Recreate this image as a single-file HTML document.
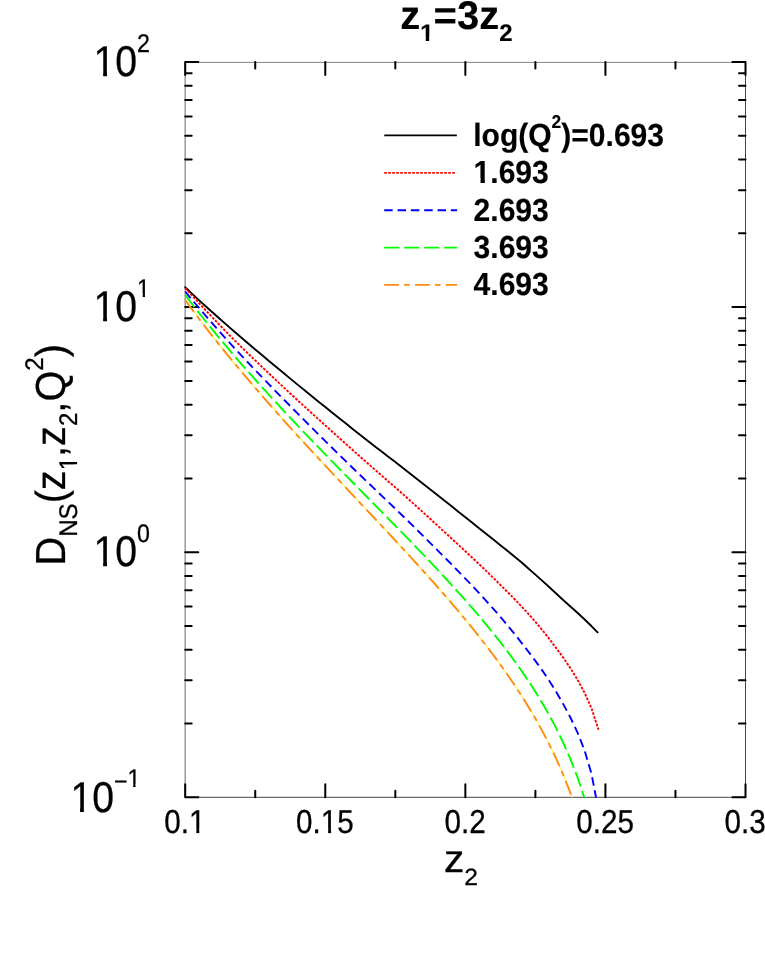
<!DOCTYPE html>
<html><head><meta charset="utf-8"><title>chart</title>
<style>
html,body{margin:0;padding:0;background:#fff;}
body{width:765px;height:980px;overflow:hidden;}
svg{display:block;will-change:transform;}
text{font-family:"Liberation Sans",sans-serif;fill:#000;stroke:#000;stroke-width:0.3px;font-kerning:none;text-rendering:geometricPrecision;}
.b text{font-weight:bold;stroke-width:0.15px;}
</style></head><body>
<svg width="765" height="980" viewBox="0 0 765 980">
<rect width="765" height="980" fill="#fff"/>
<defs><clipPath id="c1r"><path d="M-2,-75H58V-12.5H34.5V2H24.65V-12.5H-2Z"/></clipPath><clipPath id="c1b"><path d="M-2,-75H58V-15H37.4V2H23V-15H-2Z"/></clipPath><clipPath id="cp"><rect x="182.2" y="62.0" width="563.3" height="735.6"/></clipPath></defs>

<g fill="none">
<line x1="185.2" y1="62.0" x2="185.2" y2="797.3" stroke="#999" stroke-width="1.5"/>
<line x1="185.2" y1="62.4" x2="745.5" y2="62.4" stroke="#858585" stroke-width="1.0"/>
<line x1="745.5" y1="62.0" x2="745.5" y2="797.3" stroke="#3a3a3a" stroke-width="0.95"/>
<line x1="185.2" y1="797.3" x2="745.5" y2="797.3" stroke="#3a3a3a" stroke-width="0.95"/>
</g>
<g stroke="#000" stroke-width="2" stroke-linecap="round" fill="none">
<path d="M185.20,797.3 v-13.1 M185.20,62.0 v13.1 M255.24,797.3 v-6.5 M255.24,62.0 v6.5 M325.27,797.3 v-13.1 M325.27,62.0 v13.1 M395.31,797.3 v-6.5 M395.31,62.0 v6.5 M465.35,797.3 v-13.1 M465.35,62.0 v13.1 M535.39,797.3 v-6.5 M535.39,62.0 v6.5 M605.42,797.3 v-13.1 M605.42,62.0 v13.1 M675.46,797.3 v-6.5 M675.46,62.0 v6.5 M745.50,797.3 v-13.1 M745.50,62.0 v13.1 M185.2,797.30 h13.1 M745.5,797.30 h-13.1 M185.2,723.52 h6.5 M745.5,723.52 h-6.5 M185.2,680.36 h6.5 M745.5,680.36 h-6.5 M185.2,649.74 h6.5 M745.5,649.74 h-6.5 M185.2,625.98 h6.5 M745.5,625.98 h-6.5 M185.2,606.58 h6.5 M745.5,606.58 h-6.5 M185.2,590.17 h6.5 M745.5,590.17 h-6.5 M185.2,575.95 h6.5 M745.5,575.95 h-6.5 M185.2,563.42 h6.5 M745.5,563.42 h-6.5 M185.2,552.20 h13.1 M745.5,552.20 h-13.1 M185.2,478.42 h6.5 M745.5,478.42 h-6.5 M185.2,435.26 h6.5 M745.5,435.26 h-6.5 M185.2,404.64 h6.5 M745.5,404.64 h-6.5 M185.2,380.88 h6.5 M745.5,380.88 h-6.5 M185.2,361.48 h6.5 M745.5,361.48 h-6.5 M185.2,345.07 h6.5 M745.5,345.07 h-6.5 M185.2,330.85 h6.5 M745.5,330.85 h-6.5 M185.2,318.32 h6.5 M745.5,318.32 h-6.5 M185.2,307.10 h13.1 M745.5,307.10 h-13.1 M185.2,233.32 h6.5 M745.5,233.32 h-6.5 M185.2,190.16 h6.5 M745.5,190.16 h-6.5 M185.2,159.54 h6.5 M745.5,159.54 h-6.5 M185.2,135.78 h6.5 M745.5,135.78 h-6.5 M185.2,116.38 h6.5 M745.5,116.38 h-6.5 M185.2,99.97 h6.5 M745.5,99.97 h-6.5 M185.2,85.75 h6.5 M745.5,85.75 h-6.5 M185.2,73.22 h6.5 M745.5,73.22 h-6.5 M185.2,62.00 h13.1 M745.5,62.00 h-13.1"/>
</g>
<g clip-path="url(#cp)" fill="none" stroke-width="1.9" stroke-linejoin="round" stroke-linecap="butt">
<path d="M185.20,287.20 L192.20,293.86 L199.21,300.36 L206.21,306.75 L213.22,313.03 L220.22,319.25 L227.22,325.39 L234.23,331.48 L241.23,337.51 L248.23,343.50 L255.24,349.45 L262.24,355.35 L269.25,361.22 L276.25,367.06 L283.25,372.85 L290.26,378.62 L297.26,384.36 L304.26,390.07 L311.27,395.76 L318.27,401.42 L325.28,407.05 L332.28,412.67 L339.28,418.26 L346.29,423.84 L353.29,429.40 L360.29,434.94 L367.30,440.47 L374.30,445.99 L381.31,451.37 L388.31,456.73 L395.31,462.08 L402.32,467.56 L409.32,473.04 L416.32,478.51 L423.33,483.99 L430.33,489.46 L437.34,494.94 L444.34,500.48 L451.34,506.06 L458.35,511.65 L465.35,517.25 L472.35,522.84 L479.36,528.38 L486.36,533.95 L493.37,539.54 L500.37,545.17 L507.37,550.83 L514.38,556.53 L521.38,562.34 L528.38,568.45 L535.39,574.63 L542.39,580.89 L549.40,587.24 L556.40,593.71 L563.40,600.30 L570.41,606.43 L577.41,612.69 L584.41,619.21 L591.42,626.05 L597.58,632.43" stroke="#000" stroke-linecap="round"/>
<path d="M185.20,287.94 L192.20,295.73 L199.21,303.34 L206.21,310.82 L213.22,318.28 L220.22,325.64 L227.22,332.92 L234.23,339.97 L241.23,346.85 L248.23,353.67 L255.24,360.44 L262.24,367.14 L269.25,373.80 L276.25,380.41 L283.25,386.98 L290.26,393.50 L297.26,399.94 L304.26,406.35 L311.27,412.72 L318.27,419.06 L325.28,425.37 L332.28,431.68 L339.28,437.99 L346.29,444.29 L353.29,450.57 L360.29,456.83 L367.30,462.99 L374.30,469.15 L381.31,475.29 L388.31,481.41 L395.31,487.48 L402.32,493.62 L409.32,499.89 L416.32,506.17 L423.33,512.52 L430.33,518.95 L437.34,525.40 L444.34,531.88 L451.34,538.30 L458.35,544.75 L465.35,551.25 L472.35,557.80 L479.36,564.42 L486.36,571.12 L493.37,577.91 L500.37,584.81 L507.37,591.83 L514.38,598.99 L521.38,606.32 L528.38,613.86 L535.39,621.80 L542.39,630.17 L549.40,639.08 L556.40,648.35 L563.40,657.85 L570.41,668.15 L577.41,679.45 L584.41,692.44 L591.42,708.07 L598.42,729.36 L598.51,729.68" stroke="#ff0000" stroke-dasharray="2.6 1.4"/>
<path d="M185.20,291.49 L192.20,299.95 L199.21,308.20 L206.21,316.31 L213.22,324.37 L220.22,332.32 L227.22,340.17 L234.23,347.82 L241.23,355.31 L248.23,362.73 L255.24,370.09 L262.24,377.38 L269.25,384.62 L276.25,391.81 L283.25,398.95 L290.26,406.04 L297.26,413.13 L304.26,420.18 L311.27,427.20 L318.27,434.18 L325.28,441.14 L332.28,448.05 L339.28,454.88 L346.29,461.69 L353.29,468.49 L360.29,475.28 L367.30,481.97 L374.30,488.67 L381.31,495.36 L388.31,502.06 L395.31,508.77 L402.32,515.50 L409.32,522.26 L416.32,529.16 L423.33,536.09 L430.33,543.05 L437.34,550.05 L444.34,557.10 L451.34,564.19 L458.35,571.36 L465.35,578.60 L472.35,585.93 L479.36,593.37 L486.36,601.04 L493.37,608.86 L500.37,616.84 L507.37,625.19 L514.38,633.75 L521.38,642.58 L528.38,651.61 L535.39,660.90 L542.39,670.65 L549.40,680.98 L556.40,692.17 L563.40,704.35 L570.41,717.50 L577.41,732.30 L584.41,749.88 L591.42,773.54 L597.58,805.49" stroke="#0000ff" stroke-dasharray="8.5 4.83"/>
<path d="M185.20,294.91 L192.20,304.20 L199.21,313.22 L206.21,322.03 L213.22,330.66 L220.22,339.14 L227.22,347.47 L234.23,355.67 L241.23,363.76 L248.23,371.74 L255.24,379.62 L262.24,387.41 L269.25,395.11 L276.25,402.73 L283.25,410.28 L290.26,417.77 L297.26,425.19 L304.26,432.55 L311.27,439.87 L318.27,447.14 L325.28,454.37 L332.28,461.56 L339.28,468.73 L346.29,475.88 L353.29,483.00 L360.29,490.12 L367.30,497.22 L374.30,504.33 L381.31,511.45 L388.31,518.57 L395.31,525.72 L402.32,532.90 L409.32,540.11 L416.32,547.36 L423.33,554.66 L430.33,562.03 L437.34,569.47 L444.34,577.00 L451.34,584.62 L458.35,592.36 L465.35,600.22 L472.35,608.23 L479.36,616.41 L486.36,624.78 L493.37,633.36 L500.37,642.20 L507.37,651.32 L514.38,660.77 L521.38,670.61 L528.38,680.90 L535.39,691.73 L542.39,703.20 L549.40,715.44 L556.40,728.64 L563.40,743.03 L570.41,758.98 L577.41,777.01 L584.41,797.95 L591.42,823.25 L597.58,851.36" stroke="#00ff00" stroke-dasharray="15.3 4.7"/>
<path d="M185.20,300.04 L192.20,309.66 L199.21,319.01 L206.21,328.15 L213.22,337.10 L220.22,345.89 L227.22,354.53 L234.23,363.04 L241.23,371.44 L248.23,379.72 L255.24,387.90 L262.24,396.00 L269.25,404.00 L276.25,411.92 L283.25,419.78 L290.26,427.56 L297.26,435.29 L304.26,442.96 L311.27,450.58 L318.27,458.16 L325.28,465.71 L332.28,473.22 L339.28,480.71 L346.29,488.18 L353.29,495.63 L360.29,503.08 L367.30,510.54 L374.30,517.99 L381.31,525.47 L388.31,532.96 L395.31,540.49 L402.32,548.05 L409.32,555.65 L416.32,563.32 L423.33,571.05 L430.33,578.86 L437.34,586.75 L444.34,594.75 L451.34,602.87 L458.35,611.12 L465.35,619.52 L472.35,628.10 L479.36,636.87 L486.36,645.86 L493.37,655.11 L500.37,664.65 L507.37,674.52 L514.38,684.78 L521.38,695.49 L528.38,706.71 L535.39,718.56 L542.39,731.14 L549.40,744.62 L556.40,759.20 L563.40,775.16 L570.41,792.90 L577.41,813.03 L584.41,836.50 L591.42,864.99 L597.58,896.77" stroke="#fff060" stroke-width="1.1"/>
<path d="M185.20,300.04 L192.20,309.66 L199.21,319.01 L206.21,328.15 L213.22,337.10 L220.22,345.89 L227.22,354.53 L234.23,363.04 L241.23,371.44 L248.23,379.72 L255.24,387.90 L262.24,396.00 L269.25,404.00 L276.25,411.92 L283.25,419.78 L290.26,427.56 L297.26,435.29 L304.26,442.96 L311.27,450.58 L318.27,458.16 L325.28,465.71 L332.28,473.22 L339.28,480.71 L346.29,488.18 L353.29,495.63 L360.29,503.08 L367.30,510.54 L374.30,517.99 L381.31,525.47 L388.31,532.96 L395.31,540.49 L402.32,548.05 L409.32,555.65 L416.32,563.32 L423.33,571.05 L430.33,578.86 L437.34,586.75 L444.34,594.75 L451.34,602.87 L458.35,611.12 L465.35,619.52 L472.35,628.10 L479.36,636.87 L486.36,645.86 L493.37,655.11 L500.37,664.65 L507.37,674.52 L514.38,684.78 L521.38,695.49 L528.38,706.71 L535.39,718.56 L542.39,731.14 L549.40,744.62 L556.40,759.20 L563.40,775.16 L570.41,792.90 L577.41,813.03 L584.41,836.50 L591.42,864.99 L597.58,896.77" stroke="#ff8c10" stroke-dasharray="14.7 5.2 5.7 5.2"/>
</g>
<g fill="none" stroke-width="1.85">
<line x1="385.1" y1="135.4" x2="456.1" y2="135.4" stroke="#000" stroke-linecap="round"/>
<line x1="384.2" y1="172.9" x2="455.7" y2="172.9" stroke="#ff0000" stroke-dasharray="2.6 1.4"/>
<line x1="384.2" y1="210.2" x2="457.1" y2="210.2" stroke="#0000ff" stroke-dasharray="8.5 4.83"/>
<line x1="384.2" y1="247.6" x2="457.1" y2="247.6" stroke="#00ff00" stroke-dasharray="15.3 4.7"/>
<line x1="384.2" y1="284.8" x2="457.1" y2="284.8" stroke="#ff8c10" stroke-dasharray="14.7 5.2 5.7 5.2"/>
</g>
<g id="leg0" class="b" transform="translate(473.2,145.9) scale(0.939,1)">
<text x="0.00" y="0" font-size="32">log(Q</text>
<text x="83.53" y="-18.2" font-size="18.5">2</text>
<text x="93.82" y="0" font-size="32">)=0.693</text>
</g>
<g id="leg1" class="b" transform="translate(473.6,183.25) scale(0.939,1)">
<text transform="translate(0.00,0) scale(0.3200)" font-size="100" clip-path="url(#c1b)" style="stroke-width:0.469px">1</text>
<text x="17.80" y="0" font-size="32">.693</text>
</g>
<g id="leg2" class="b" transform="translate(473.6,220.6) scale(0.939,1)">
<text x="0.00" y="0" font-size="32">2.693</text>
</g>
<g id="leg3" class="b" transform="translate(473.6,257.95) scale(0.939,1)">
<text x="0.00" y="0" font-size="32">3.693</text>
</g>
<g id="leg4" class="b" transform="translate(473.6,295.3) scale(0.939,1)">
<text x="0.00" y="0" font-size="32">4.693</text>
</g>
<g id="title" class="b" transform="translate(400.2,28.8) scale(1.0,1)">
<text x="0.00" y="0" font-size="40">z</text>
<text transform="translate(20.00,12) scale(0.2400)" font-size="100" clip-path="url(#c1b)" style="stroke-width:0.625px">1</text>
<text x="33.35" y="0" font-size="40">=3z</text>
<text x="98.95" y="12" font-size="24">2</text>
</g>
<g id="yt0" transform="translate(93.5,76.2) scale(0.91,1)">
<text transform="translate(0.00,0) scale(0.4300)" font-size="100" clip-path="url(#c1r)" style="stroke-width:0.698px">1</text>
<text x="23.91" y="0" font-size="43">0</text>
<text x="47.83" y="-24.6" font-size="25.5">2</text>
</g>
<g id="yt1" transform="translate(93.5,321.3) scale(0.91,1)">
<text transform="translate(0.00,0) scale(0.4300)" font-size="100" clip-path="url(#c1r)" style="stroke-width:0.698px">1</text>
<text x="23.91" y="0" font-size="43">0</text>
<text transform="translate(47.83,-24.6) scale(0.2550)" font-size="100" clip-path="url(#c1r)" style="stroke-width:1.176px">1</text>
</g>
<g id="yt2" transform="translate(93.5,566.4) scale(0.91,1)">
<text transform="translate(0.00,0) scale(0.4300)" font-size="100" clip-path="url(#c1r)" style="stroke-width:0.698px">1</text>
<text x="23.91" y="0" font-size="43">0</text>
<text x="47.83" y="-24.6" font-size="25.5">0</text>
</g>
<g id="yt3" transform="translate(70.4,811.5) scale(0.91,1)">
<text transform="translate(0.00,0) scale(0.4300)" font-size="100" clip-path="url(#c1r)" style="stroke-width:0.698px">1</text>
<text x="23.91" y="0" font-size="43">0</text>
<text x="47.83" y="-21.7" font-size="25.5">−</text>
<text transform="translate(62.72,-24.6) scale(0.2550)" font-size="100" clip-path="url(#c1r)" style="stroke-width:1.176px">1</text>
</g>
<g id="xt0" transform="translate(184.9,833.0) scale(0.894,1)">
<text x="-23.08" y="0" font-size="33.2">0.</text>
<text transform="translate(4.61,0) scale(0.3320)" font-size="100" clip-path="url(#c1r)" style="stroke-width:0.904px">1</text>
</g>
<g id="xt1" transform="translate(324.97,833.0) scale(0.894,1)">
<text x="-32.31" y="0" font-size="33.2">0.</text>
<text transform="translate(-4.62,0) scale(0.3320)" font-size="100" clip-path="url(#c1r)" style="stroke-width:0.904px">1</text>
<text x="13.84" y="0" font-size="33.2">5</text>
</g>
<g id="xt2" transform="translate(465.05,833.0) scale(0.894,1)">
<text x="-23.08" y="0" font-size="33.2">0.2</text>
</g>
<g id="xt3" transform="translate(605.12,833.0) scale(0.894,1)">
<text x="-32.31" y="0" font-size="33.2">0.25</text>
</g>
<g id="xt4" transform="translate(745.2,833.0) scale(0.894,1)">
<text x="-23.08" y="0" font-size="33.2">0.3</text>
</g>
<g id="xlab" transform="translate(443.9,872.4) scale(1.046,1)">
<text x="0.00" y="0" font-size="38.9">z</text>
<text x="19.45" y="12.7" font-size="23.5">2</text>
</g>
<g id="ylab" transform="translate(65.4,565.5) rotate(-90) scale(0.945,1)">
<text x="0.00" y="0" font-size="42">D</text>
<text x="30.33" y="12" font-size="25.5">NS</text>
<text x="65.75" y="0" font-size="42">(z</text>
<text transform="translate(100.74,12) scale(0.2550)" font-size="100" clip-path="url(#c1r)" style="stroke-width:1.176px">1</text>
<text x="114.92" y="0" font-size="42">,z</text>
<text x="147.59" y="12" font-size="25.5">2</text>
<text x="161.77" y="0" font-size="42">,Q</text>
<text x="206.11" y="-22" font-size="25.5">2</text>
<text x="220.29" y="0" font-size="42">)</text>
</g>
</svg></body></html>
